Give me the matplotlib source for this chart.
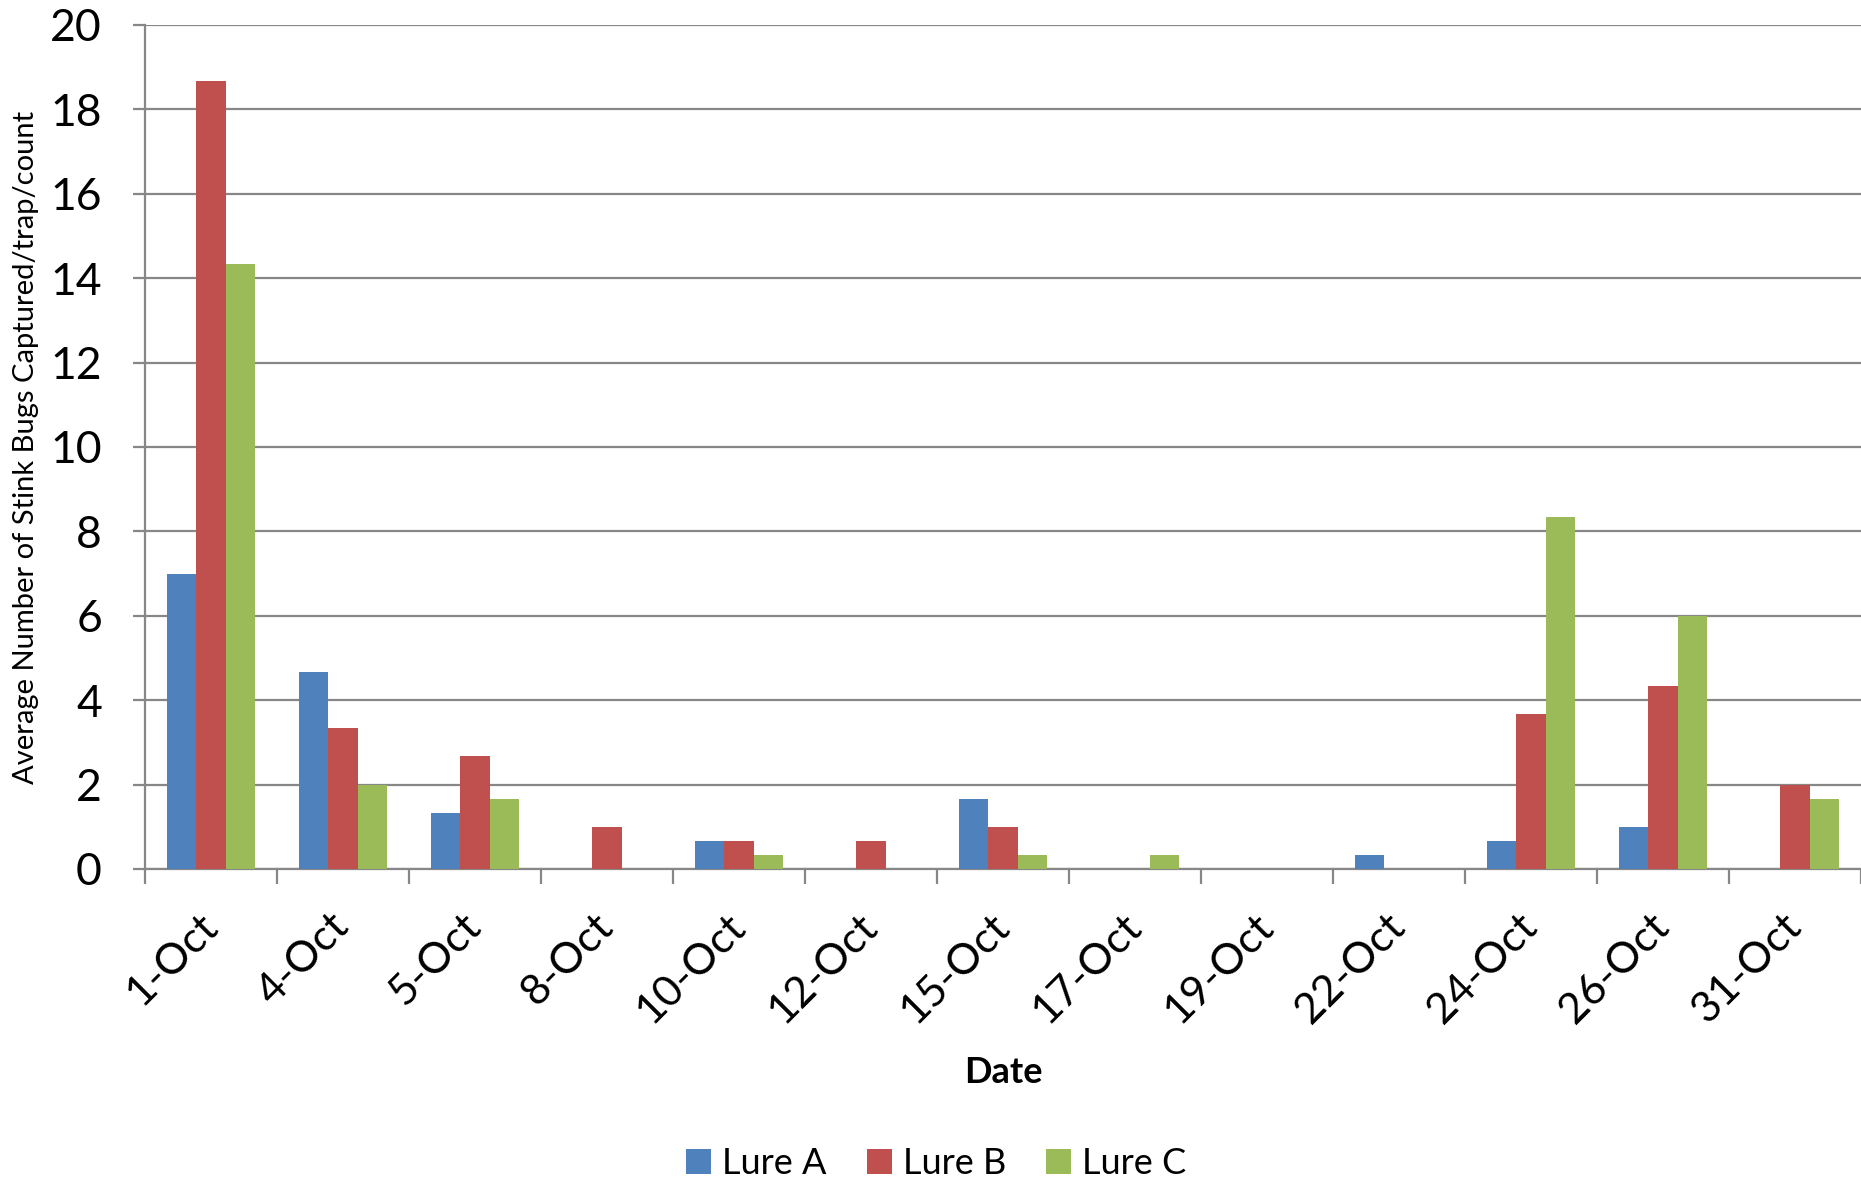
import numpy as np
import matplotlib.pyplot as plt
from matplotlib.ticker import FixedLocator, NullFormatter

plt.rcParams['font.family'] = ['Lato', 'DejaVu Sans']

# data
dates = ['1-Oct', '4-Oct', '5-Oct', '8-Oct', '10-Oct', '12-Oct', '15-Oct',
         '17-Oct', '19-Oct', '22-Oct', '24-Oct', '26-Oct', '31-Oct']
lure_a = [7.0, 4.67, 1.33, 0, 0.67, 0, 1.67, 0, 0, 0.33, 0.67, 1.0, 0]
lure_b = [18.67, 3.33, 2.67, 1.0, 0.67, 0.67, 1.0, 0, 0, 0, 3.67, 4.33, 2.0]
lure_c = [14.33, 2.0, 1.67, 0, 0.33, 0, 0.33, 0.33, 0, 0, 8.33, 6.0, 1.67]

series = [('Lure A', lure_a, '#4F81BD'),
          ('Lure B', lure_b, '#C0504D'),
          ('Lure C', lure_c, '#9BBB59')]

grid_col = '#878787'

fig = plt.figure(figsize=(18.61, 11.77), dpi=100)
ax = fig.add_axes([0.0779, 0.2617, 0.9221, 0.7171])

x = np.arange(len(dates)) + 0.5
w = 1 / 4.5
for i, (name, vals, col) in enumerate(series):
    ax.bar(x + (i - 1) * w, vals, width=w, color=col, label=name,
           edgecolor='none', zorder=3)

ax.set_xlim(0, len(dates))
ax.set_ylim(0, 20)
ax.set_yticks(np.arange(0, 21, 2))
ax.yaxis.grid(True, color=grid_col, linewidth=1.6, zorder=0)
ax.set_axisbelow(True)

# category boundary ticks, labels at category centres
ax.xaxis.set_major_locator(FixedLocator(np.arange(len(dates) + 1)))
ax.xaxis.set_major_formatter(NullFormatter())
ax.xaxis.set_minor_locator(FixedLocator(x))
ax.set_xticklabels(dates, minor=True, rotation=45, ha='right',
                   va='center', rotation_mode='anchor', fontsize=31)
ax.tick_params(axis='x', which='major', length=11, width=1.6,
               color=grid_col, direction='out')
ax.tick_params(axis='x', which='minor', length=0, pad=37)
ax.tick_params(axis='y', length=9, width=1.6, color=grid_col,
               labelsize=32, pad=22)

for s in ['top', 'right']:
    ax.spines[s].set_visible(False)
for s in ['left', 'bottom']:
    ax.spines[s].set_color(grid_col)
    ax.spines[s].set_linewidth(1.6)

ax.set_ylabel('Average Number of Stink Bugs Captured/trap/count',
              fontsize=21, labelpad=8)
ax.set_xlabel('Date', fontsize=26, fontweight='bold', labelpad=19)

fig.legend(loc='lower center', ncol=3, frameon=False, fontsize=26,
           bbox_to_anchor=(0.503, -0.03), handlelength=0.7, handleheight=0.7,
           handletextpad=0.3, columnspacing=1.1)

fig.savefig('out.png', dpi=100)
